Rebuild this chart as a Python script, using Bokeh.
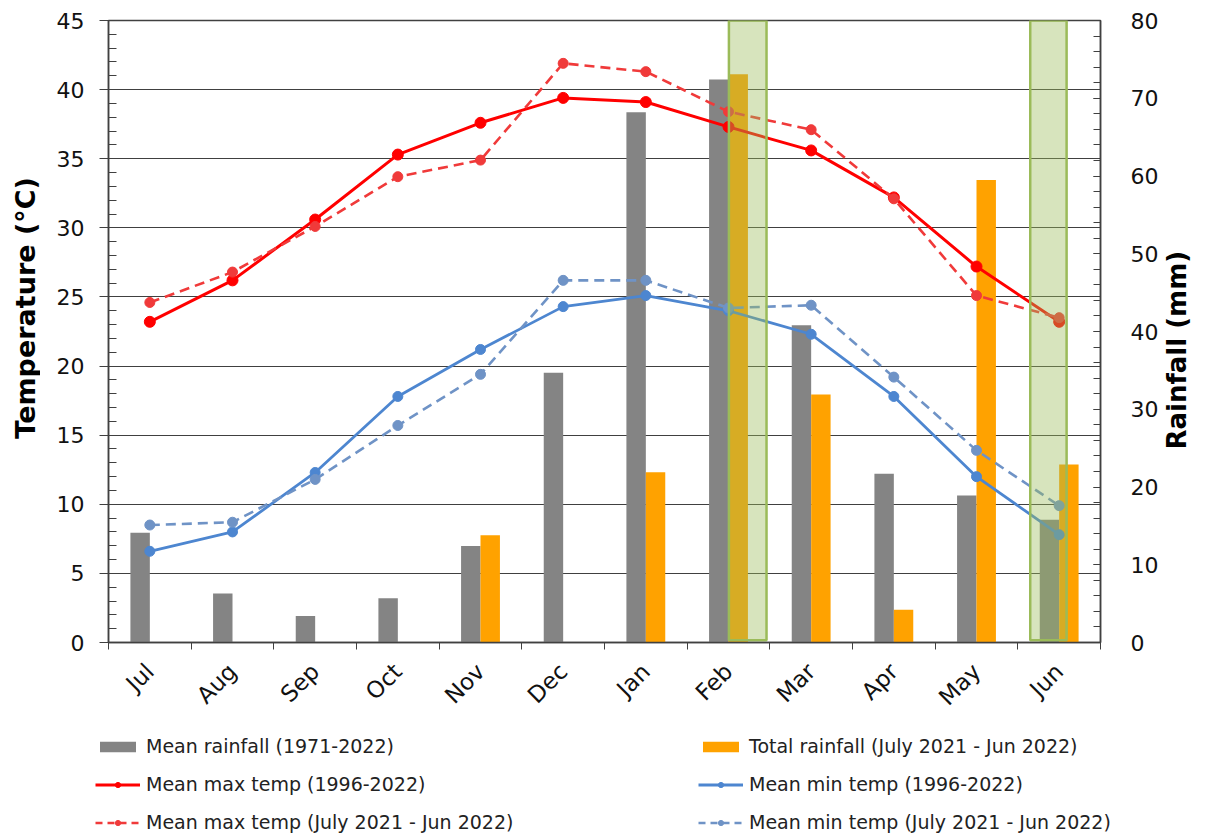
import math
import numpy as np
from bokeh.plotting import figure
from bokeh.layouts import column, row
from bokeh.models import (LinearAxis, Range1d, FixedTicker, Legend, LegendItem)
from bokeh.core.properties import value
from bokeh.embed import file_html
from bokeh.resources import INLINE

# ---------------- data ----------------
months = ["Jul", "Aug", "Sep", "Oct", "Nov", "Dec", "Jan", "Feb", "Mar", "Apr", "May", "Jun"]
mean_rain = [14.1, 6.3, 3.4, 5.7, 12.4, 34.7, 68.2, 72.4, 40.8, 21.7, 18.9, 15.8]
total_rain = [0, 0, 0, 0, 13.8, 0, 21.9, 73.1, 31.9, 4.2, 59.5, 22.9]
max_mean = [23.2, 26.2, 30.6, 35.3, 37.6, 39.4, 39.1, 37.3, 35.6, 32.2, 27.2, 23.2]
max_2122 = [24.6, 26.8, 30.1, 33.7, 34.9, 41.9, 41.3, 38.4, 37.1, 32.1, 25.1, 23.5]
min_mean = [6.6, 8.0, 12.3, 17.8, 21.2, 24.3, 25.1, 24.0, 22.3, 17.8, 12.0, 7.8]
min_2122 = [8.5, 8.7, 11.8, 15.7, 19.4, 26.2, 26.2, 24.2, 24.4, 19.2, 13.9, 9.9]
temp_ticks = list(range(0, 46, 5))
rain_ticks = list(range(0, 81, 10))
# highlighted periods (in month-slot units, rainfall axis)
hl_left = [7.505, 11.15]
hl_right = [7.96, 11.59]
hl_bottom = [0.3, 0.3]
hl_top = [80, 80]
labels = ["Mean rainfall (1971-2022)", "Mean max temp (1996-2022)",
          "Mean max temp (July 2021 - Jun 2022)", "Total rainfall (July 2021 - Jun 2022)",
          "Mean min temp (1996-2022)", "Mean min temp (July 2021 - Jun 2022)"]
y_title = ["Temperature (°C)"]
y2_title = ["Rainfall (mm)"]

idx = np.arange(len(months))
xc = idx + 0.5
BAR_W = 0.235

FONT = "DejaVu Sans"
AX = "#404040"
GRAY = "#848484"
ORANGE = "#ffa200"
RED = "#ff0000"
RED2 = "#f03a3a"
BLUE = "#4d86d0"
BLUE2 = "#6f93c6"


def strip(width, height):
    f = figure(width=width, height=height, output_backend="svg", toolbar_location=None,
               x_range=Range1d(0, 1), y_range=Range1d(0, 1),
               x_axis_location=None, y_axis_location=None, min_border=0)
    f.grid.visible = False
    f.outline_line_color = None
    f.background_fill_color = "white"
    f.border_fill_color = "white"
    return f


p = figure(width=1121, height=722, output_backend="svg", toolbar_location=None,
           x_range=Range1d(0, 12), y_range=Range1d(0, 45),
           min_border_left=68, min_border_right=58, min_border_top=20,
           min_border_bottom=79)
p.extra_y_ranges = {"rain": Range1d(0, 80)}
p.background_fill_color = "white"
p.border_fill_color = "white"
p.outline_line_color = AX
p.outline_line_width = 1.5

# x axis
xa = p.xaxis[0]
xa.ticker = FixedTicker(ticks=list(xc), minor_ticks=list(range(13)))
xa.major_label_overrides = {float(x): m for x, m in zip(xc, months)}
xa.major_tick_line_color = None
xa.major_tick_out = 7
xa.major_tick_in = 0
xa.minor_tick_out = 7
xa.minor_tick_in = 0
xa.minor_tick_line_color = AX
xa.axis_line_color = AX
xa.axis_line_width = 1.5
xa.major_label_orientation = math.pi / 4
xa.major_label_text_font = FONT
xa.major_label_text_font_size = "23px"
xa.major_label_text_color = "#111111"
xa.major_label_standoff = 18

# left axis
ya = p.yaxis[0]
ya.ticker = FixedTicker(ticks=temp_ticks, minor_ticks=list(range(0, 46)))
ya.major_tick_out = 9
ya.major_tick_in = 0
ya.minor_tick_out = 0
ya.minor_tick_in = 8
ya.major_tick_line_color = AX
ya.minor_tick_line_color = AX
ya.axis_line_color = AX
ya.axis_line_width = 1.5
ya.major_label_text_font = FONT
ya.major_label_text_font_size = "22px"
ya.major_label_text_color = "#111111"
ya.major_label_standoff = 15

# right axis
ra = LinearAxis(y_range_name="rain",
                ticker=FixedTicker(ticks=rain_ticks, minor_ticks=list(range(0, 81, 2))))
ra.major_tick_out = 0
ra.major_tick_in = 7
ra.minor_tick_out = 0
ra.minor_tick_in = 7
ra.major_tick_line_color = AX
ra.minor_tick_line_color = AX
ra.axis_line_color = AX
ra.axis_line_width = 1.5
ra.major_label_text_font = FONT
ra.major_label_text_font_size = "22px"
ra.major_label_text_color = "#111111"
ra.major_label_standoff = 30
p.add_layout(ra, "right")

# grid
p.xgrid.visible = False
p.ygrid.grid_line_color = AX
p.ygrid.grid_line_width = 1.2

# bars
p.vbar(x=xc - BAR_W / 2, top=mean_rain, width=BAR_W, y_range_name="rain",
       fill_color=GRAY, line_color=None)
p.vbar(x=xc + BAR_W / 2, top=total_rain, width=BAR_W, y_range_name="rain",
       fill_color=ORANGE, line_color=None)

# lines
p.line(xc, max_mean, line_color=RED, line_width=3)
p.scatter(xc, max_mean, size=11, fill_color=RED, line_color=RED)
p.line(xc, max_2122, line_color=RED2, line_width=2.6, line_dash="10 6")
p.scatter(xc, max_2122, size=10, fill_color=RED2, line_color=RED2)
p.line(xc, min_mean, line_color=BLUE, line_width=2.8)
p.scatter(xc, min_mean, size=10, fill_color=BLUE, line_color=BLUE)
p.line(xc, min_2122, line_color=BLUE2, line_width=2.6, line_dash="10 6")
p.scatter(xc, min_2122, size=10, fill_color=BLUE2, line_color=BLUE2)

# highlight boxes
p.quad(left=hl_left, right=hl_right, bottom=hl_bottom, top=hl_top, y_range_name="rain",
       fill_color="#9bbb59", fill_alpha=0.4, line_color="#9bbb59", line_width=2.5)

# ---------------- axis title strips ----------------
lt = strip(40, 722)
lt.text(x=[0.63], y=[0.538], text=y_title, angle=math.pi / 2,
        text_font=value(FONT), text_font_style="bold", text_font_size="27px",
        text_align="center", text_baseline="middle", text_color="#000000")

rt = strip(30, 722)
rt.text(x=[0.5], y=[0.47], text=y2_title, angle=math.pi / 2,
        text_font=value(FONT), text_font_style="bold", text_font_size="26px",
        text_align="center", text_baseline="middle", text_color="#000000")

# ---------------- legend strip ----------------
lf = strip(1191, 116)
off = dict(x=[-10], y=[-10])  # swatch-only renderers, kept outside the visible range
g1 = lf.vbar(x=[-10], top=[-10], width=0.1, fill_color=GRAY, line_color=None)
g2 = lf.vbar(x=[-10], top=[-10], width=0.1, fill_color=ORANGE, line_color=None)
a1 = lf.line(line_color=RED, line_width=3, **off)
b1 = lf.scatter(size=11, fill_color=RED, line_color=RED, **off)
a2 = lf.line(line_color=RED2, line_width=2.6, line_dash="7 5", **off)
b2 = lf.scatter(size=10, fill_color=RED2, line_color=RED2, **off)
a3 = lf.line(line_color=BLUE, line_width=2.8, **off)
b3 = lf.scatter(size=10, fill_color=BLUE, line_color=BLUE, **off)
a4 = lf.line(line_color=BLUE2, line_width=2.6, line_dash="7 5", **off)
b4 = lf.scatter(size=10, fill_color=BLUE2, line_color=BLUE2, **off)

items = [
    LegendItem(label=labels[0], renderers=[g1]),
    LegendItem(label=labels[1], renderers=[a1, b1]),
    LegendItem(label=labels[2], renderers=[a2, b2]),
    LegendItem(label=labels[3], renderers=[g2]),
    LegendItem(label=labels[4], renderers=[a3, b3]),
    LegendItem(label=labels[5], renderers=[a4, b4]),
]
legend = Legend(items=items, location=(95, -3), orientation="vertical", nrows=3,
                label_text_font=FONT, label_text_font_size="19px", label_text_color="#222222",
                glyph_width=45, glyph_height=13, label_standoff=6, label_width=552,
                label_height=38, spacing=0, padding=0, margin=0,
                border_line_color=None, background_fill_alpha=0)
lf.add_layout(legend, "center")

layout = column(row(lt, p, rt, spacing=0), lf, spacing=0)
open("out.html", "w").write(file_html(layout, INLINE))
